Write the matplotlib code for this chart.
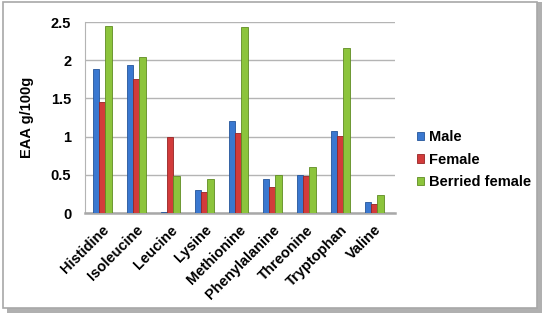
import matplotlib.pyplot as plt
from matplotlib.patches import Rectangle
import numpy as np

plt.rcParams['font.family'] = ['Liberation Sans', 'DejaVu Sans']

amino = ['Histidine', 'Isoleucine', 'Leucine', 'Lysine', 'Methionine',
         'Phenylalanine', 'Threonine', 'Tryptophan', 'Valine']
male = [1.88, 1.94, 0.01, 0.30, 1.20, 0.45, 0.50, 1.07, 0.14]
female = [1.45, 1.75, 1.00, 0.27, 1.05, 0.34, 0.48, 1.01, 0.12]
berried = [2.45, 2.04, 0.48, 0.45, 2.43, 0.50, 0.60, 2.16, 0.24]
series = ['Male', 'Female', 'Berried female']
colors = ['#3a78d0', '#d23b3b', '#8cc43c']
edges = ['#24559a', '#962424', '#5f8c22']

fig = plt.figure(figsize=(5.46, 3.19), dpi=100)
fig.patch.set_facecolor('white')

# chart frame with shadow
fig.patches.append(Rectangle((0.012, 0.02), 0.98, 0.975, transform=fig.transFigure,
                             facecolor='#b0b0b0', edgecolor='none', zorder=-2))
fig.patches.append(Rectangle((0.006, 0.035), 0.978, 0.96, transform=fig.transFigure,
                             facecolor='white', edgecolor='#a8a8a8', lw=1.2, zorder=-1))

ax = fig.add_axes([0.156, 0.332, 0.567, 0.599])
ax.set_zorder(2)
ax.set_facecolor('none')
x = np.arange(len(amino))
w = 0.19
for i, (vals, lab) in enumerate(zip([male, female, berried], series)):
    ax.bar(x + (i - 1) * w * 0.95, vals, w, color=colors[i], edgecolor=edges[i],
           linewidth=0.6, label=lab, zorder=3)

ax.set_ylim(0, 2.5)
ax.set_xlim(-0.5, 8.6)
ax.set_yticks([0, 0.5, 1, 1.5, 2, 2.5])
ax.set_yticklabels(['0', '0.5', '1', '1.5', '2', '2.5'], fontsize=10.5, fontweight='bold')
ax.yaxis.grid(True, color='#b4b4b4', lw=1, zorder=0)
ax.tick_params(axis='y', length=0, pad=10)
ax.tick_params(axis='x', length=0, pad=7)
ax.set_xticks(x)
ax.set_xticklabels(amino, rotation=45, ha='right', rotation_mode='anchor',
                   fontsize=10.5, fontweight='bold')
for s in ['top', 'right']:
    ax.spines[s].set_visible(False)
ax.spines['left'].set_color('#b4b4b4')
ax.spines['bottom'].set_color('#a8a8a8')
ax.spines['bottom'].set_linewidth(1.8)
ax.set_ylabel('EAA g/100g', fontsize=10.5, fontweight='bold', labelpad=12)

ax.legend(loc='center left', bbox_to_anchor=(1.03, 0.28), frameon=False,
          prop={'size': 10.5, 'weight': 'bold'}, handlelength=0.5, handleheight=0.5,
          handletextpad=0.3, labelspacing=0.6)

fig.savefig('out.png', dpi=100)
